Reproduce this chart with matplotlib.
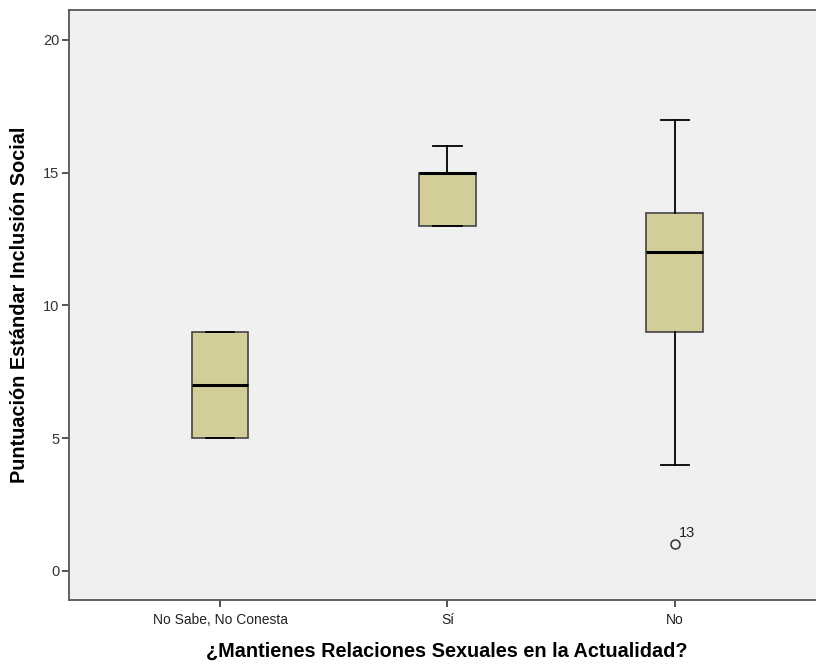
import matplotlib.pyplot as plt

plt.rcParams['font.family'] = ['Liberation Sans', 'DejaVu Sans']

categories = ["No Sabe, No Conesta", "Sí", "No"]
whislo = [5, 13, 4]
q1 = [5, 13, 9]
med = [7, 15, 12]
q3 = [9, 15, 13.5]
whishi = [9, 16, 17]
fliers = [[], [], [1]]
flier_ids = [[], [], ["13"]]

stats = []
for i in range(len(categories)):
    stats.append({"whislo": whislo[i], "q1": q1[i], "med": med[i],
                  "q3": q3[i], "whishi": whishi[i], "fliers": fliers[i],
                  "label": categories[i]})

fig = plt.figure(figsize=(8.16, 6.65), dpi=100)
ax = fig.add_axes([69 / 816, 65 / 665, (825 - 69) / 816, 590 / 665])
ax.set_facecolor("#F0F0F0")

ax.bxp(stats, positions=range(3), widths=0.25, patch_artist=True,
       boxprops=dict(facecolor="#D3CE99", edgecolor="#444444", linewidth=1.2),
       medianprops=dict(color="black", linewidth=2.2),
       whiskerprops=dict(color="black", linewidth=1.3),
       capprops=dict(color="black", linewidth=1.3),
       capwidths=0.125,
       flierprops=dict(marker="o", markerfacecolor="none",
                       markeredgecolor="#333333", markersize=6.5, markeredgewidth=1.1))

for i in range(3):
    for v, lab in zip(fliers[i], flier_ids[i]):
        ax.annotate(lab, (i, v), xytext=(3, 5), textcoords="offset points",
                    fontsize=10.5, color="#222222")

ax.set_xlim(-0.664, 2.66)
ax.set_ylim(-1.1, 21.13)
ax.set_yticks([0, 5, 10, 15, 20])
ax.set_xticks(range(3))
ax.set_xticklabels(categories)

for s in ax.spines.values():
    s.set_color("#555555")
    s.set_linewidth(1.3)

ax.tick_params(axis="y", direction="out", length=5, width=1.3, color="#444444",
               labelsize=10.5, labelcolor="#333333", pad=2)
ax.tick_params(axis="x", direction="out", length=5, width=1.3, color="#444444",
               labelsize=10, labelcolor="#222222", pad=4)

ax.set_ylabel("Puntuación Estándar Inclusión Social", fontsize=14.3,
              fontweight="bold", labelpad=10)
ax.set_xlabel("¿Mantienes Relaciones Sexuales en la Actualidad?", fontsize=14.3,
              fontweight="bold", labelpad=11)

fig.savefig("out.png", dpi=100)
